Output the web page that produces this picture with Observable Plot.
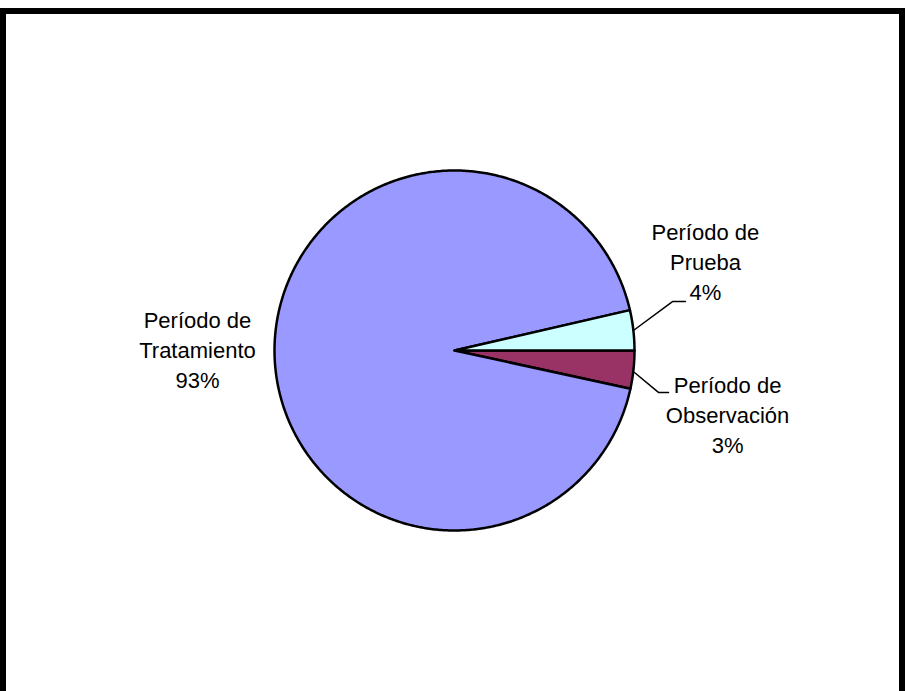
<!DOCTYPE html>
<html>
<head>
<meta charset="utf-8">
<script src="https://cdn.jsdelivr.net/npm/d3@7"></script>
<script src="https://cdn.jsdelivr.net/npm/@observablehq/plot@0.6"></script>
<style>
  html, body { margin: 0; padding: 0; background: #fff; overflow: hidden; }
  #wrap { position: relative; width: 906px; height: 691px; }
  #frame { position: absolute; left: 0; top: 8px; width: 893px; height: 700px;
           border: 6px solid #000; border-bottom: none; pointer-events: none; }
</style>
</head>
<body>
<div id="wrap"><div id="chart"></div><div id="frame"></div></div>
<script>
// ---- data ----
const categories = ["Período de Observación", "Período de Tratamiento", "Período de Prueba"];
const values = [3.4, 93, 3.6];
const colors = ["#993366", "#9999FF", "#CCFFFF"];
const labelLines = [["Período de", "Observación"], ["Período de", "Tratamiento"], ["Período de", "Prueba"]];

// ---- layout (radius units) ----
const labelPos = [[1.517, -0.35], [-1.428, 0.01], [1.394, 0.502]];
const leaders = [
  [[1.0, -0.122], [1.133, -0.233], [1.189, -0.233]],
  null,
  [[0.994, 0.111], [1.211, 0.272], [1.283, 0.272]]
];

const total = d3.sum(values);
const pie = d3.pie().sort(null).value(d => d).startAngle(Math.PI / 2).endAngle(Math.PI / 2 + 2 * Math.PI);
const arcs = pie(values);

const slicePts = [];
arcs.forEach((a, i) => {
  slicePts.push({k: i, x: 0, y: 0});
  const n = Math.max(4, Math.ceil((a.endAngle - a.startAngle) / 0.01));
  for (let j = 0; j <= n; j++) {
    const t = a.startAngle + (a.endAngle - a.startAngle) * j / n;
    slicePts.push({k: i, x: Math.sin(t), y: Math.cos(t)});
  }
});

const leaderPts = [];
leaders.forEach((l, i) => { if (l) l.forEach(p => leaderPts.push({k: i, x: p[0], y: p[1]})); });

const labelData = categories.map((c, i) => ({
  x: labelPos[i][0], y: labelPos[i][1],
  text: labelLines[i].join("\n") + "\n" + Math.round(values[i] / total * 100) + "%"
}));

const chart = Plot.plot({
  width: 906, height: 691,
  margin: 0,
  x: {domain: [-454 / 180, 452 / 180], axis: null},
  y: {domain: [-341 / 180, 350 / 180], axis: null},
  style: {background: "#fff"},
  marks: [
    Plot.line(slicePts, {x: "x", y: "y", z: "k", fill: d => colors[d.k], stroke: "#000", strokeWidth: 2.5, curve: "linear-closed", strokeLinejoin: "round"}),
    Plot.line(leaderPts, {x: "x", y: "y", z: "k", stroke: "#000", strokeWidth: 1.5}),
    Plot.text(labelData, {x: "x", y: "y", text: "text", fontSize: 22, lineHeight: 1.36, fill: "#000",
      fontFamily: "Liberation Sans, Arial, sans-serif", textAnchor: "middle"})
  ]
});
document.getElementById("chart").appendChild(chart);
</script>
</body>
</html>
